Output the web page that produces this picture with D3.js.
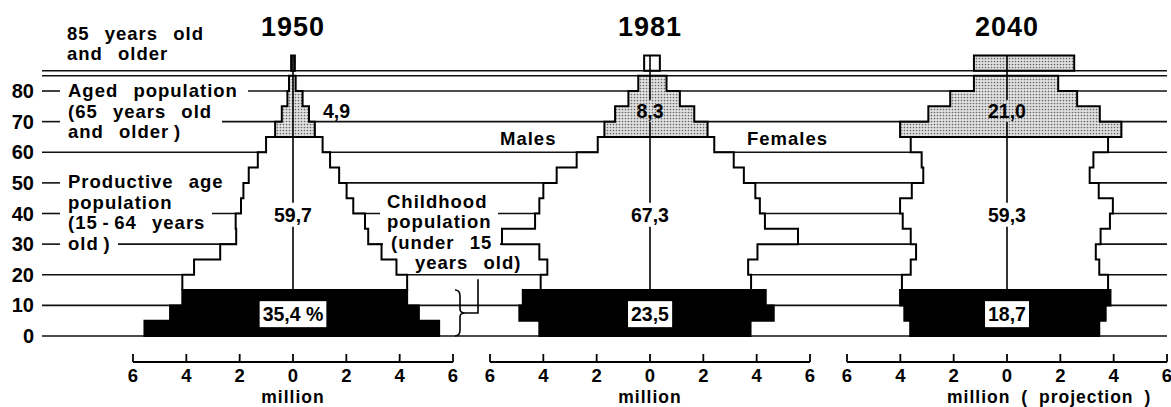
<!DOCTYPE html>
<html>
<head>
<meta charset="utf-8">
<script src="https://cdn.jsdelivr.net/npm/d3@7"></script>
<style>
  body { margin: 0; background: #fff; }
  svg { display: block; font-family: "Liberation Sans", Arial, sans-serif; font-weight: bold; }
  .note { font-size: 18.5px; letter-spacing: 1px; word-spacing: 9px; }
</style>
</head>
<body>
<div id="chart"></div>
<script>
// age groups: lower bound of each 5-year band, the last one is 85+
const ageStart = [0, 5, 10, 15, 20, 25, 30, 35, 40, 45, 50, 55, 60, 65, 70, 75, 80, 85];
const years = ["1950", "1981", "2040"];

// million persons
const males1950   = [5.57, 4.61, 4.15, 4.15, 3.71, 2.73, 2.13, 2.15, 1.95, 1.86, 1.66, 1.32, 1.01, 0.67, 0.42, 0.21, 0.15, 0.07];
const females1950 = [5.48, 4.72, 4.28, 4.28, 3.88, 3.32, 2.82, 2.70, 2.26, 2.01, 1.73, 1.39, 1.11, 0.82, 0.60, 0.36, 0.10, 0.07];
const males1981   = [4.15, 4.90, 4.77, 4.10, 3.85, 4.15, 5.55, 4.31, 4.15, 4.00, 3.50, 2.75, 1.96, 1.71, 1.31, 0.81, 0.44, 0.22];
const females1981 = [3.77, 4.64, 4.34, 3.79, 3.68, 4.03, 5.55, 4.31, 4.12, 3.95, 3.52, 3.14, 2.41, 2.16, 1.66, 1.12, 0.62, 0.37];
const males2040   = [3.63, 3.85, 4.01, 3.94, 3.61, 3.41, 3.61, 3.91, 4.01, 3.57, 3.14, 3.20, 3.61, 4.01, 2.95, 2.13, 1.24, 1.24];
const females2040 = [3.46, 3.70, 3.88, 3.79, 3.46, 3.33, 3.51, 3.86, 3.97, 3.44, 3.10, 3.24, 3.79, 4.29, 3.48, 2.63, 1.92, 2.52];

// shares in %
const childShare = ["35,4 %", "23,5", "18,7"];
const workShare  = ["59,7", "67,3", "59,3"];
const agedShare  = ["4,9", "8,3", "21,0"];

const ageTicks = [0, 10, 20, 30, 40, 50, 60, 70, 80];
const xTicks = [-6, -4, -2, 0, 2, 4, 6];
const unitLabels = ["million", "million", "million  ( projection )"];

const males = { "1950": males1950, "1981": males1981, "2040": males2040 };
const females = { "1950": females1950, "1981": females1981, "2040": females2040 };
const oldestFill = { "1950": "url(#dots)", "1981": "#fff", "2040": "url(#dots)" };

const width = 1171, height = 407;

const svg = d3.select("#chart")
  .append("svg")
  .attr("width", width)
  .attr("height", height);

// fine dot screen used for the aged population
const pat = svg.append("defs").append("pattern")
  .attr("id", "dots")
  .attr("patternUnits", "userSpaceOnUse")
  .attr("width", 3).attr("height", 3);
pat.append("rect").attr("width", 3).attr("height", 3).attr("fill", "#e2e2e2");
pat.append("circle").attr("cx", 1.5).attr("cy", 1.5).attr("r", 0.85).attr("fill", "#666");

const y = d3.scaleLinear().domain([0, 80]).range([336, 91]);
const breakGap = 5;
function bandY(a) {
  const off = a >= 85 ? breakGap : 0;
  return [y(a) - off, y(a + 5) - off];
}

const panel = d3.scalePoint().domain(years).range([293, 1007]);
const xFor = yr => d3.scaleLinear().domain([-6, 6]).range([panel(yr) - 160, panel(yr) + 160]);

const gridLeft = 42, gridRight = 1167;

// ---- horizontal age lines ----
const leftLabelEnd = { 30: 118, 40: 212, 50: 243, 70: 222, 80: 248 };
const midGaps = { 30: [383, 500], 40: [380, 498] };

const grid = svg.append("g").attr("stroke", "#111").attr("stroke-width", 1.6);
ageTicks.forEach(a => {
  let segs = leftLabelEnd[a] ? [[gridLeft, 60], [leftLabelEnd[a], gridRight]] : [[gridLeft, gridRight]];
  if (midGaps[a]) {
    const [g0, g1] = midGaps[a];
    segs = segs.flatMap(([s, e]) => (s < g0 && e > g1) ? [[s, g0], [g1, e]] : [[s, e]]);
  }
  segs.forEach(([s, e]) => {
    grid.append("line").attr("x1", s).attr("x2", e).attr("y1", y(a)).attr("y2", y(a));
  });
});
// double line marking the break above 85
[bandY(80)[1], bandY(85)[0]].forEach(v => {
  grid.append("line").attr("x1", gridLeft).attr("x2", gridRight).attr("y1", v).attr("y2", v);
});

// age labels
svg.append("g").selectAll("text")
  .data(ageTicks)
  .join("text")
  .attr("x", 34)
  .attr("y", d => y(d) + 7)
  .attr("text-anchor", "end")
  .attr("font-size", 20)
  .text(d => d);

// ---- pyramids ----
const line = d3.line();
function outline(idx, m, f, x) {
  const pts = [];
  idx.forEach(i => { const [y0, y1] = bandY(ageStart[i]); pts.push([x(-m[i]), y0], [x(-m[i]), y1]); });
  idx.slice().reverse().forEach(i => { const [y0, y1] = bandY(ageStart[i]); pts.push([x(f[i]), y1], [x(f[i]), y0]); });
  return line(pts) + "Z";
}
const idxOf = test => ageStart.map((a, i) => test(a) ? i : -1).filter(i => i >= 0);
const childIdx = idxOf(a => a < 15);
const workIdx = idxOf(a => a >= 15 && a < 65);
const agedIdx = idxOf(a => a >= 65 && a < 85);
const oldIdx = idxOf(a => a >= 85);

function labelBox(g, txt, cx, by, anchor, fill, pad) {
  const t = g.append("text")
    .attr("x", cx).attr("y", by)
    .attr("text-anchor", anchor)
    .attr("font-size", 19.5)
    .text(txt);
  if (fill) {
    const b = t.node().getBBox();
    g.insert("rect", "text")
      .attr("x", b.x - pad).attr("y", b.y - pad + 1)
      .attr("width", b.width + pad * 2).attr("height", b.height + pad * 2 - 2)
      .attr("fill", fill);
  }
  return t;
}

years.forEach((yr, k) => {
  const x = xFor(yr);
  const m = males[yr], f = females[yr];
  const g = svg.append("g");
  const cx = panel(yr);

  g.append("path").attr("d", outline(workIdx, m, f, x)).attr("fill", "#fff");
  g.append("path").attr("d", outline(agedIdx, m, f, x)).attr("fill", "url(#dots)");
  g.append("path").attr("d", outline(oldIdx, m, f, x)).attr("fill", oldestFill[yr]);
  g.append("path").attr("d", outline(childIdx, m, f, x)).attr("fill", "#000");
  g.selectAll("path").attr("stroke", "#000").attr("stroke-width", 2).attr("stroke-linejoin", "miter");

  // centre line
  g.append("line")
    .attr("x1", cx).attr("x2", cx)
    .attr("y1", bandY(85)[1]).attr("y2", y(15))
    .attr("stroke", "#000").attr("stroke-width", 1.6);

  // share labels
  const lg = svg.append("g");
  const wl = lg.append("g");
  labelBox(wl, workShare[k], cx, y(37.3), "middle", "#fff", 2);
  const al = lg.append("g");
  if (k === 0) labelBox(al, agedShare[k], cx + 30, y(71.2), "start", null, 0);
  else labelBox(al, agedShare[k], cx, y(71.2), "middle", "url(#dots)", 1);
  const cl = lg.append("g");
  labelBox(cl, childShare[k], cx, y(4.85), "middle", "#fff", 3);

  // title
  svg.append("text")
    .attr("x", cx).attr("y", 36)
    .attr("text-anchor", "middle")
    .attr("font-size", 27)
    .attr("letter-spacing", 1)
    .text(yr);

  // bottom axis
  const ax = svg.append("g").attr("stroke", "#000").attr("stroke-width", 1.8);
  const ay = 362;
  ax.append("line").attr("x1", x(-6)).attr("x2", x(6)).attr("y1", ay).attr("y2", ay);
  ax.selectAll(".tk").data(xTicks).join("line")
    .attr("class", "tk")
    .attr("x1", d => x(d)).attr("x2", d => x(d))
    .attr("y1", ay).attr("y2", ay - 8);
  svg.append("g").selectAll("text").data(xTicks).join("text")
    .attr("x", d => x(d)).attr("y", 382)
    .attr("text-anchor", "middle")
    .attr("font-size", 18.5)
    .text(d => Math.abs(d));
  svg.append("text")
    .attr("class", "note")
    .attr("x", k === 2 ? x(-2.25) : cx)
    .attr("y", 402.5)
    .attr("text-anchor", k === 2 ? "start" : "middle")
    .style("font-size", "17.5px")
    .style("word-spacing", k === 2 ? "5px" : null)
    .text(unitLabels[k]);
});

// ---- annotations ----
const notes = [
  ["85 years old", 67, 39.5], ["and older", 67, 59.5],
  ["Aged population", 68, 97], ["(65 years old", 68, 117.5], ["and older\u2009)", 68, 138],
  ["Productive age", 68, 188], ["population", 68, 208.5], ["(15\u2009-\u200964 years", 68, 229], ["old\u2009)", 68, 249.5],
  ["Childhood", 387, 207.5], ["population", 387, 228], ["(under 15", 391, 248.5], ["years old)", 415, 269],
  ["Males", 500, 145], ["Females", 747, 145]
];
svg.append("g").selectAll("text").data(notes).join("text")
  .attr("class", "note")
  .attr("x", d => d[1]).attr("y", d => d[2])
  .text(d => d[0]);

// brace for the childhood population
const b0 = y(15), b1 = y(0), bm = (b0 + b1) / 2, bx = 460;
svg.append("path")
  .attr("d", `M${bx - 5},${b0} Q${bx},${b0} ${bx},${b0 + 6} L${bx},${bm - 4} Q${bx},${bm} ${bx + 5},${bm}`
    + ` Q${bx},${bm} ${bx},${bm + 4} L${bx},${b1 - 6} Q${bx},${b1} ${bx - 5},${b1}`
    + ` M${bx + 5},${bm} L${bx + 18},${bm} L${bx + 18},${y(18.5)}`)
  .attr("fill", "none")
  .attr("stroke", "#000")
  .attr("stroke-width", 1.6);
</script>
</body>
</html>
